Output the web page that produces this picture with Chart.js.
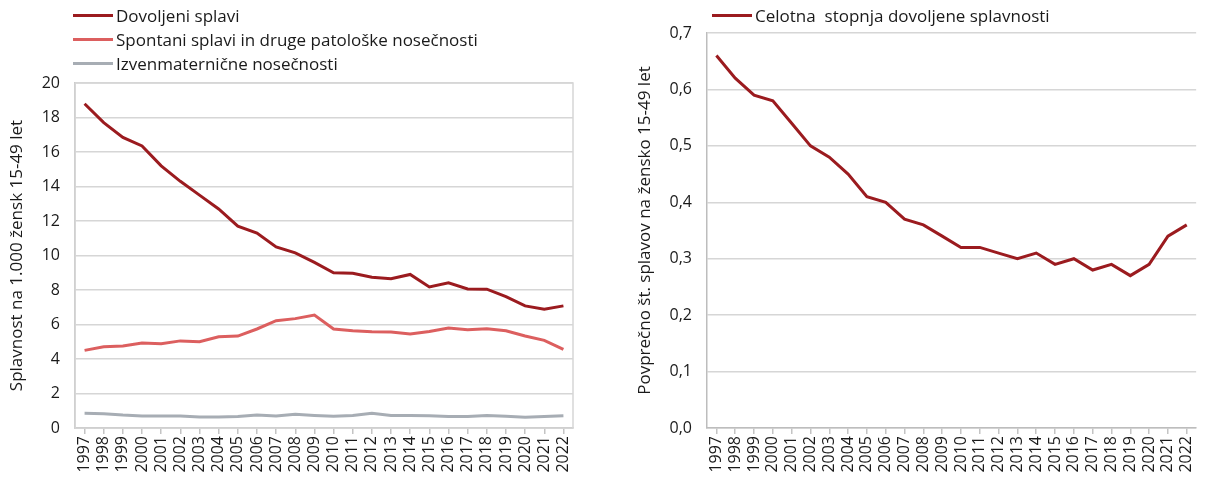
<!DOCTYPE html>
<html>
<head>
<meta charset="utf-8">
<script src="https://cdn.jsdelivr.net/npm/chart.js@4/dist/chart.umd.min.js"></script>
<style>
    body {
        margin: 0;
        background: #ffffff;
        font-family: "Open Sans", sans-serif;
    }

    .panel {
        position: absolute;
        top: 0;
    }

    .legend {
        position: absolute;
        font-size: 17px;
        color: #1a1a1a;
        white-space: pre;
    }

    .legend-row {
        display: flex;
        align-items: center;
        height: 24px;
    }

    .legend-line {
        width: 40px;
        height: 3px;
        margin-right: 3px;
    }
</style>
</head>
<body>

<div class="panel" style="left:0; width:590px; height:479px;">
    <canvas id="chartLeft" width="590" height="479"></canvas>
</div>
<div class="panel" style="left:630px; width:578px; height:479px;">
    <canvas id="chartRight" width="578" height="479"></canvas>
</div>

<div class="legend" id="legendLeft" style="left:73px; top:3px;"></div>
<div class="legend" id="legendRight" style="left:712px; top:3px;"></div>

<script>
const years = [
    "1997", "1998", "1999", "2000", "2001", "2002", "2003", "2004", "2005",
    "2006", "2007", "2008", "2009", "2010", "2011", "2012", "2013", "2014",
    "2015", "2016", "2017", "2018", "2019", "2020", "2021", "2022"
];

const dovoljeni = [
    18.8, 17.7, 16.85, 16.35, 15.2, 14.3, 13.5, 12.7, 11.7,
    11.3, 10.5, 10.15, 9.6, 9.0, 8.97, 8.74, 8.65, 8.9,
    8.18, 8.42, 8.06, 8.05, 7.62, 7.08, 6.88, 7.08
];

const spontani = [
    4.5, 4.71, 4.75, 4.93, 4.89, 5.05, 5.0, 5.29, 5.33,
    5.74, 6.22, 6.34, 6.55, 5.74, 5.64, 5.58, 5.56, 5.45,
    5.6, 5.8, 5.7, 5.76, 5.64, 5.33, 5.08, 4.56
];

const izvenmaternicne = [
    0.85, 0.83, 0.75, 0.7, 0.7, 0.7, 0.64, 0.64, 0.66,
    0.75, 0.7, 0.79, 0.73, 0.68, 0.73, 0.85, 0.73, 0.73,
    0.71, 0.66, 0.66, 0.73, 0.68, 0.62, 0.66, 0.71
];

const celotna = [
    0.66, 0.62, 0.59, 0.58, 0.54, 0.50, 0.48, 0.45, 0.41,
    0.40, 0.37, 0.36, 0.34, 0.32, 0.32, 0.31, 0.30, 0.31,
    0.29, 0.30, 0.28, 0.29, 0.27, 0.29, 0.34, 0.36
];

const leftSeries = [
    "Dovoljeni splavi",
    "Spontani splavi in druge patološke nosečnosti",
    "Izvenmaternične nosečnosti"
];
const rightSeries = ["Celotna  stopnja dovoljene splavnosti"];

const leftTitle = "Splavnost na 1.000 žensk 15-49 let";
const rightTitle = "Povprečno št. splavov na žensko 15-49 let";

const leftTicks = [0, 20, 2];
const rightTicks = [0, 0.7, 0.1];

const colDark = "#9b1b1f";
const colLight = "#dc5f5f";
const colGray = "#a7adb4";
const gridCol = "#d6d6d6";
const fontFamily = "'Open Sans', sans-serif";

Chart.defaults.font.family = fontFamily;
Chart.defaults.color = "#1a1a1a";

function buildLegend(id, names, colors) {

    const box = document.getElementById(id);

    names.forEach((name, i) => {
        const row = document.createElement("div");
        row.className = "legend-row";

        const line = document.createElement("div");
        line.className = "legend-line";
        line.style.background = colors[i];

        const txt = document.createElement("span");
        txt.textContent = name;

        row.appendChild(line);
        row.appendChild(txt);
        box.appendChild(row);
    });
}

// frame around the plot area of the left chart
const framePlugin = {
    id: "frame",
    afterDraw(chart, args, opts) {
        if (!opts.show) {
            return;
        }
        const a = chart.chartArea;
        const ctx = chart.ctx;
        ctx.save();
        ctx.strokeStyle = gridCol;
        ctx.lineWidth = 1.5;
        ctx.strokeRect(a.left, a.top, a.right - a.left, a.bottom - a.top);
        ctx.restore();
    }
};

function lineSet(label, data, color) {

    return {
        label: label,
        data: data,
        borderColor: color,
        backgroundColor: color,
        borderWidth: 3,
        pointRadius: 0,
        tension: 0
    };
}

function makeChart(canvasId, datasets, cfg) {

    return new Chart(
        document.getElementById(canvasId),
        {
            type: "line",
            data: {
                labels: years,
                datasets: datasets
            },
            options: {
                responsive: false,
                animation: false,
                devicePixelRatio: 1,
                layout: {
                    autoPadding: false,
                    padding: {
                        top: cfg.top,
                        right: cfg.right,
                        left: 0,
                        bottom: 0
                    }
                },
                plugins: {
                    legend: { display: false },
                    tooltip: { enabled: false },
                    frame: { show: cfg.frame }
                },
                scales: {
                    x: {
                        offset: true,
                        grid: {
                            drawOnChartArea: false,
                            drawTicks: true,
                            tickLength: 6,
                            color: "#c4c4c4",
                            lineWidth: 1.5
                        },
                        border: {
                            display: true,
                            color: "#bdbdbd",
                            width: 1.5
                        },
                        ticks: {
                            autoSkip: false,
                            minRotation: 90,
                            maxRotation: 90,
                            padding: 2,
                            color: "#1a1a1a",
                            font: { size: 16 }
                        },
                        afterFit(scale) {
                            scale.height = 51;
                        }
                    },
                    y: {
                        min: cfg.ticks[0],
                        max: cfg.ticks[1],
                        grid: {
                            color: gridCol,
                            lineWidth: 1.5,
                            drawTicks: false
                        },
                        border: {
                            display: true,
                            color: "#bdbdbd",
                            width: 1.5
                        },
                        ticks: {
                            stepSize: cfg.ticks[2],
                            padding: 15,
                            color: "#1a1a1a",
                            font: { size: 16 },
                            callback: cfg.fmt
                        },
                        title: {
                            display: true,
                            text: cfg.title,
                            color: "#1a1a1a",
                            font: { size: 17 },
                            padding: { top: cfg.titlePad, bottom: 0 }
                        },
                        afterFit(scale) {
                            scale.width = cfg.yWidth;
                        }
                    }
                }
            },
            plugins: [framePlugin]
        }
    );
}

buildLegend("legendLeft", leftSeries, [colDark, colLight, colGray]);
buildLegend("legendRight", rightSeries, [colDark]);

const chartLeft = makeChart(
    "chartLeft",
    [
        lineSet(leftSeries[0], dovoljeni, colDark),
        lineSet(leftSeries[1], spontani, colLight),
        lineSet(leftSeries[2], izvenmaternicne, colGray)
    ],
    {
        top: 83,
        right: 17,
        yWidth: 75,
        ticks: leftTicks,
        title: leftTitle,
        titlePad: 7,
        frame: true,
        fmt: v => String(v)
    }
);

const chartRight = makeChart(
    "chartRight",
    [
        lineSet(rightSeries[0], celotna, colDark)
    ],
    {
        top: 33,
        right: 3,
        yWidth: 77,
        ticks: rightTicks,
        title: rightTitle,
        titlePad: 5,
        frame: false,
        fmt: v => v.toFixed(1).replace(".", ",")
    }
);
</script>
</body>
</html>
